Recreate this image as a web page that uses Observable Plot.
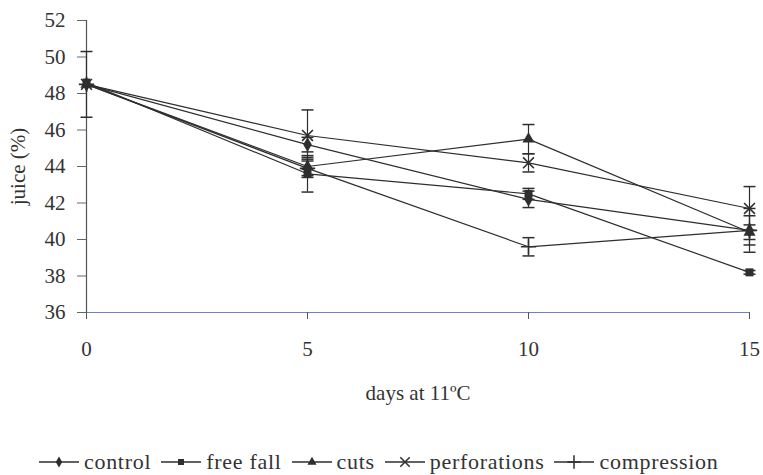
<!DOCTYPE html>
<html><head><meta charset="utf-8">
<script src="https://cdn.jsdelivr.net/npm/d3@7"></script>
<script src="https://cdn.jsdelivr.net/npm/@observablehq/plot@0.6"></script>
<style>
body{margin:0;background:#fff;font-family:"Liberation Serif","Times New Roman",serif;color:#333;}
#legend{display:flex;align-items:center;margin-top:39px;padding-left:39px;height:26px;font-size:22px;letter-spacing:0.7px;}
#legend .item{display:flex;align-items:center;margin-right:10px;}
#legend svg{margin-right:5px;}
</style></head><body><div id="chart"></div><div id="legend"></div>
<script>
const days = [0, 5, 10, 15];
const seriesNames = ["control", "free fall", "cuts", "perforations", "compression"];
const control      = [48.5, 45.2, 42.2, 40.5];
const freeFall     = [48.6, 43.6, 42.5, 38.2];
const cuts         = [48.5, 44.0, 45.5, 40.4];
const perforations = [48.5, 45.7, 44.2, 41.7];
const compression  = [48.5, 43.9, 39.6, 40.5];
const controlErr      = [1.8, 0.4, 0.45, 1.2];
const freeFallErr     = [0, 1.0, 0.3, 0.1];
const cutsErr         = [0, 0.5, 0.8, 0.4];
const perforationsErr = [0, 1.4, 0.5, 1.2];
const compressionErr  = [0, 0.5, 0.5, 0.8];
const xTicks = [0, 5, 10, 15];
const yTicks = [36, 38, 40, 42, 44, 46, 48, 50, 52];
const symbolNames = ["diamond", "square", "triangle", "times", "plus"];

const values = [control, freeFall, cuts, perforations, compression];
const errs = [controlErr, freeFallErr, cutsErr, perforationsErr, compressionErr];
const data = [];
seriesNames.forEach((s, i) => values[i].forEach((v, j) =>
  data.push({series: s, day: days[j], value: v, err: errs[i][j], sym: symbolNames[i]})));
const withErr = data.filter(d => d.err > 0);
const filled = data.filter(d => ["diamond", "square", "triangle"].includes(d.sym));
const stroked = data.filter(d => !["diamond", "square", "triangle"].includes(d.sym));

const cap = {draw(ctx) { ctx.moveTo(-6, 0); ctx.lineTo(6, 0); }};
const ink = "#2e2e2e";

const chart = Plot.plot({
  width: 763, height: 410,
  marginLeft: 86, marginRight: 14, marginTop: 20, marginBottom: 98,
  style: {fontFamily: "Liberation Serif, Times New Roman, serif", fontSize: "21px", color: "#333", background: "white"},
  x: {domain: [0, 15]},
  y: {domain: [36, 52]},
  symbol: {domain: seriesNames, range: symbolNames},
  marks: [
    Plot.ruleY([36], {stroke: "#6f7fcf", strokeWidth: 1.2}),
    Plot.ruleX([0], {stroke: "#555", strokeWidth: 1.2}),
    Plot.axisY({ticks: yTicks, tickSize: 9, tickPadding: 12, stroke: "#666",
      label: "juice (%)", labelAnchor: "center", labelArrow: "none", labelOffset: 76}),
    Plot.axisX({ticks: xTicks, tickSize: 7, tickPadding: 22, stroke: "#555",
      label: "days at 11ºC", labelAnchor: "center", labelArrow: "none", labelOffset: 87}),
    Plot.ruleX(withErr, {x: "day", y1: d => d.value - d.err, y2: d => d.value + d.err, stroke: ink, strokeWidth: 1.2}),
    Plot.dot(withErr, {x: "day", y: d => d.value - d.err, symbol: cap, stroke: ink, fill: "none", strokeWidth: 1.5}),
    Plot.dot(withErr, {x: "day", y: d => d.value + d.err, symbol: cap, stroke: ink, fill: "none", strokeWidth: 1.5}),
    Plot.line(data, {x: "day", y: "value", z: "series", stroke: ink, strokeWidth: 1.2}),
    Plot.dot(filled, {x: "day", y: "value", symbol: "series", fill: ink, stroke: "none", r: 4.5}),
    Plot.dot(stroked, {x: "day", y: "value", symbol: "series", stroke: ink, fill: "none", strokeWidth: 1.6, r: 5})
  ]
});
document.getElementById("chart").appendChild(chart);

// legend
const legend = d3.select("#legend");
seriesNames.forEach((s, i) => {
  const item = legend.append("div").attr("class", "item");
  const svg = item.append("svg").attr("width", 40).attr("height", 16);
  svg.append("line").attr("x1", 0).attr("x2", 40).attr("y1", 8).attr("y2", 8).attr("stroke", ink).attr("stroke-width", 1.3);
  const sym = {diamond: d3.symbolDiamond, square: d3.symbolSquare, triangle: d3.symbolTriangle, times: d3.symbolTimes, plus: d3.symbolPlus}[symbolNames[i]];
  const isFill = ["diamond", "square", "triangle"].includes(symbolNames[i]);
  svg.append("path").attr("transform", "translate(20,8)")
    .attr("d", d3.symbol(sym, isFill ? 36 : 60)())
    .attr("fill", isFill ? ink : "none").attr("stroke", isFill ? "none" : ink).attr("stroke-width", 1.5);
  item.append("span").text(s);
});
</script>
</body></html>
